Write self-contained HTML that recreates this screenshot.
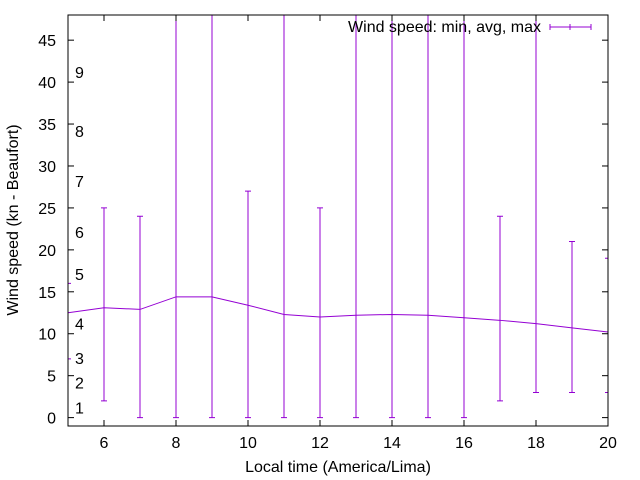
<!DOCTYPE html>
<html><head><meta charset="utf-8"><style>
body{margin:0;background:#fff}
svg{display:block;font-family:"Liberation Sans",sans-serif}
</style></head><body>
<svg id="c" width="640" height="480" viewBox="0 0 640 480"></svg>
<script>
const hours=[5,6,7,8,9,10,11,12,13,14,15,16,17,18,19,20];
const avgSpeed=[12.5,13.1,12.9,14.4,14.4,13.4,12.3,12.0,12.2,12.3,12.2,11.9,11.6,11.2,10.7,10.2];
const minSpeed=[7,2,0,0,0,0,0,0,0,0,0,0,2,3,3,3];
const maxSpeed=[16,25,24,60,60,27,60,25,60,60,60,60,24,60,21,19];
const xTicks=[6,8,10,12,14,16,18,20];
const yTicks=[0,5,10,15,20,25,30,35,40,45];
const beaufortLabels=["1","2","3","4","5","6","7","8","9"];
const beaufortValues=[1.2,4.2,7.1,11.2,17.1,22.1,28.2,34.2,41.2];
const X0=68,X1=608,Y0=426,Y1=15,XMIN=5,XMAX=20,YMIN=-1,YMAX=48;
const sx=v=>X0+(v-XMIN)/(XMAX-XMIN)*(X1-X0);
const sy=v=>Y0-(v-YMIN)/(YMAX-YMIN)*(Y0-Y1);
const svg=document.getElementById('c');const NS='http://www.w3.org/2000/svg';
function mk(t,a,p){const e=document.createElementNS(NS,t);for(const k in a)e.setAttribute(k,a[k]);(p||svg).appendChild(e);return e;}
const C='#9400d3';
const clip=mk('clipPath',{id:'pc'});mk('rect',{x:X0,y:Y1,width:X1-X0,height:Y0-Y1},clip);
const g=mk('g',{'clip-path':'url(#pc)'});


yTicks.forEach(v=>{const y=sy(v);
 const t=mk('line',{x1:X0,x2:X0+6,y1:y,y2:y,stroke:'#000'});
 const t2=mk('line',{x1:X1,x2:X1-6,y1:y,y2:y,stroke:'#000'});
 const l=mk('text',{x:X0-12,y:y+6,'text-anchor':'end','font-size':16});l.textContent=v;});
xTicks.forEach(v=>{const x=sx(v);
 const t=mk('line',{x1:x,x2:x,y1:Y0,y2:Y0-6,stroke:'#000'});
 const t2=mk('line',{x1:x,x2:x,y1:Y1,y2:Y1+6,stroke:'#000'});
 const l=mk('text',{x:x,y:Y0+22,'text-anchor':'middle','font-size':16});l.textContent=v;});
beaufortLabels.forEach((s,i)=>{const l=mk('text',{x:75,y:sy(beaufortValues[i])+6,'font-size':16});l.textContent=s;});
hours.forEach((h,i)=>{const x=sx(h),a=sy(minSpeed[i]),b=sy(maxSpeed[i]);
 const e=mk('path',{d:`M${x},${a}V${b}M${x-3},${a}H${x+3}M${x-3},${b}H${x+3}`,stroke:C,fill:'none'},g);
 });
const pl=mk('polyline',{points:hours.map((h,i)=>sx(h)+','+sy(avgSpeed[i])).join(' '),stroke:C,fill:'none'},g);

const fr=mk('rect',{x:X0,y:Y1,width:X1-X0,height:Y0-Y1,fill:'none',stroke:'#000'});
const lt=mk('text',{x:541,y:32,'text-anchor':'end','font-size':16});lt.textContent='Wind speed: min, avg, max';
const lm=mk('path',{d:'M550,27H591M550,24V30M591,24V30M570,24V30',stroke:C});
const xt=mk('text',{x:338,y:472,'text-anchor':'middle','font-size':16});xt.textContent='Local time (America/Lima)';
const yt=mk('text',{x:0,y:0,'text-anchor':'middle','font-size':16,transform:'translate(18,220) rotate(-90)'});yt.textContent='Wind speed (kn - Beaufort)';
</script>
</body></html>
